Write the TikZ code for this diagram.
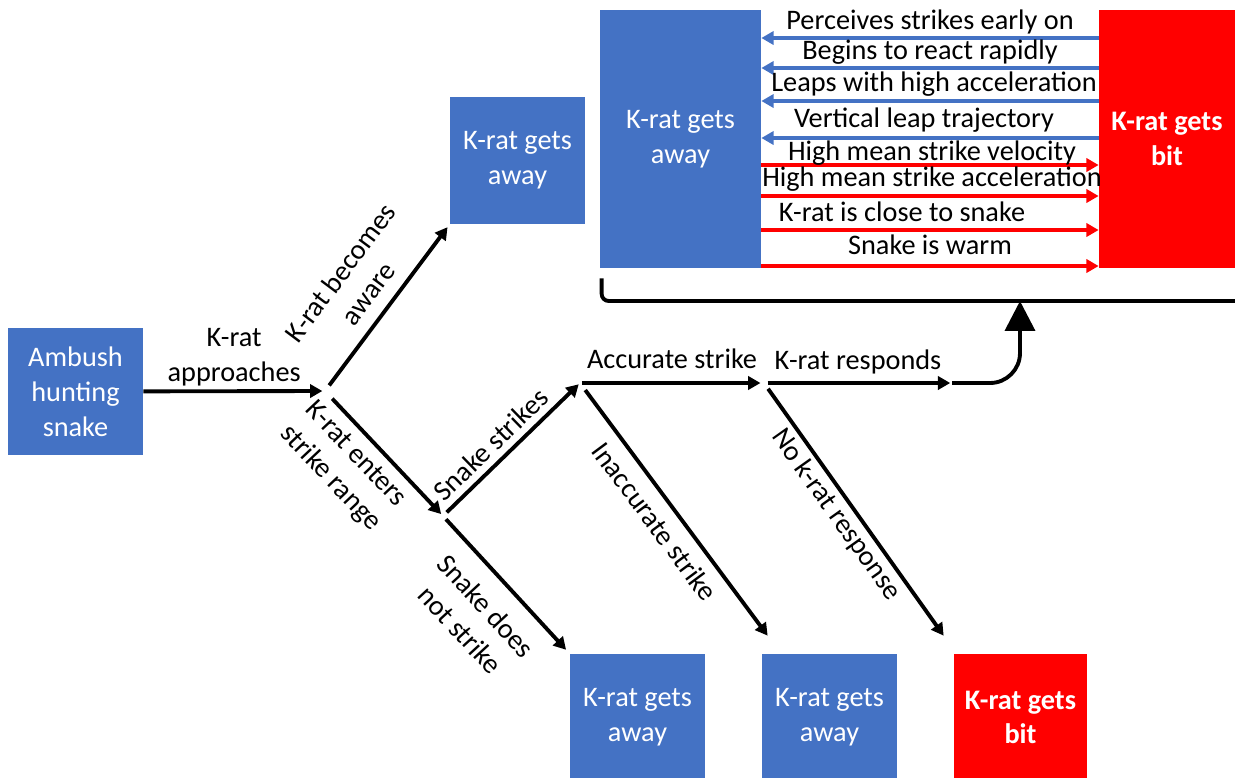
\documentclass[tikz,border=0pt]{standalone}
\usepackage{fontspec}
\setmainfont{Carlito}
\usetikzlibrary{arrows.meta,calc}
\definecolor{boxblue}{HTML}{4472C4}
\definecolor{boxred}{HTML}{FF0000}

\begin{document}
\begin{tikzpicture}[x=0.02cm, y=-0.02cm, >={Triangle[length=7pt,width=7.5pt]}]
    \tikzset{
      box/.style={
        rectangle,
        fill=boxblue,
        text=white,
        align=center,
        inner sep=0pt,
        minimum width=2.7cm,
        minimum height=2.54cm,
        font=\fontsize{16.1}{19.8}\selectfont
      },
      bitbox/.style={box, fill=boxred, font=\fontsize{16.1}{19.8}\selectfont\bfseries},
      flow/.style={draw, line width=2.2pt, ->},
      cue/.style={draw, line width=2pt, ->},
      lbl/.style={font=\fontsize{16.1}{19.8}\selectfont, align=center, inner sep=2pt}
    };
    \useasboundingbox (0,0) rectangle (1235,778);

    \node [box] (ambush) at (75.5,391.5) {Ambush\\hunting\\snake};
    \node [box] (awayA) at (517.5,160.5) {K-rat gets\\away};
    \node [box, minimum width=3.22cm, minimum height=5.16cm] (awayB) at (680.5,139) {K-rat gets\\away};
    \node [bitbox, minimum width=2.72cm, minimum height=5.16cm] (bitB) at (1167,139) {K-rat gets\\bit};
    \node [box] (away1) at (637.5,717.5) {K-rat gets\\away};
    \node [box] (away2) at (829.5,717.5) {K-rat gets\\away};
    \node [bitbox, minimum width=2.66cm] (bit3) at (1020.5,717.5) {K-rat gets\\bit};

    \coordinate (j1) at (325,391);
    \coordinate (j2) at (443,516);
    \coordinate (j3) at (580,383);
    \coordinate (j4) at (764,383);
    \coordinate (j5) at (952,383);
    \coordinate (t2) at ($(away2.north west)+(6,-18)$);
    \coordinate (t3) at ($(bit3.north west)+(-10,-18)$);
    \coordinate (up) at (1020,301);

    % cues between the two outcomes
    \foreach \y/\b/\x/\txt [count=\i] in {38/29/930/Perceives strikes early on,
        68/59/930/Begins to react rapidly,
        101/91/934/Leaps with high acceleration,
        138/127/924/Vertical leap trajectory}{
      \draw[cue, boxblue] (bitB.west |- 0,\y) -- (awayB.east |- 0,\y);
      \node[lbl, anchor=base] (cueaway\i) at (\x,\b) {\txt};
    }
    \foreach \y/\b/\x/\txt [count=\i] in {165/160/932/High mean strike velocity,
        196/186/932/High mean strike acceleration,
        230/221/902/K-rat is close to snake,
        266/254/930/Snake is warm}{
      \draw[cue, boxred] (awayB.east |- 0,\y) -- (bitB.west |- 0,\y);
      \node[lbl, anchor=base] (cuebit\i) at (\x,\b) {\txt};
    }

    % event tree
    \path[flow, shorten >=1.5pt] (ambush) -- node[lbl, above=0pt] (lapp) {K-rat\\approaches} (j1);
    \path[flow, shorten <=4pt, shorten >=2pt] (j1) -- node[lbl, sloped, above=5pt] (laware) {K-rat becomes\\aware} (awayA.south west);
    \path[flow, shorten <=6pt, shorten >=1.5pt] (j1) -- node[lbl, sloped, below=2.7pt, pos=0.39] (lenter) {K-rat enters\\strike range} (j2);
    \path[flow, shorten <=3pt, shorten >=1pt] (j2) -- node[lbl, sloped, above=1.6pt, pos=0.44] (lstrike) {Snake strikes} (j3);
    \path[flow, shorten <=2.5pt, shorten >=3pt] (j2) -- node[lbl, sloped, below=8pt, pos=0.51] (lnostrike) {Snake does\\not strike} (away1.north west);
    \path[flow, shorten <=1pt, shorten >=2pt] (j3) -- node[lbl, above=5pt] (lacc) {Accurate strike} (j4);
    \path[flow, shorten <=5pt] (j3) -- node[lbl, sloped, below=4pt, pos=0.495] (linacc) {Inaccurate strike} (t2);
    \path[flow, shorten <=2pt, shorten >=1pt] (j4) -- node[lbl, above=2pt] (lresp) {K-rat responds} (j5);
    \path[flow, shorten <=4pt] (j4) -- node[lbl, sloped, below=0pt, pos=0.48] (lnoresp) {No k-rat response} (t3);
    \draw[line width=2.2pt, rounded corners=0.6cm, -{Triangle[length=17pt,width=17pt]}] (j5) -| (up);
    \draw[line width=2.2pt, rounded corners=4pt] ([xshift=0.04cm, yshift=-0.2cm]awayB.south west) |- (up -| bitB.east);

  \end{tikzpicture}
\end{document}
